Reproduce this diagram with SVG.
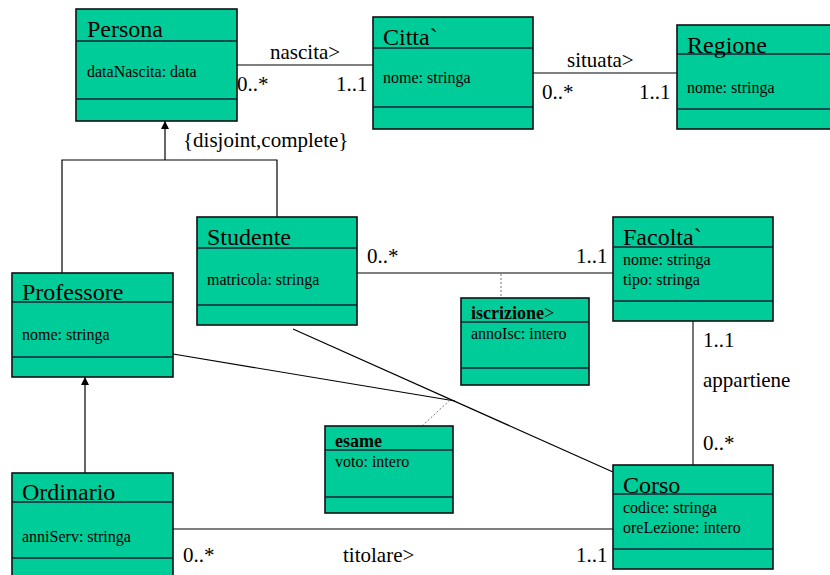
<svg xmlns="http://www.w3.org/2000/svg" width="830" height="575" viewBox="0 0 830 575">
<defs>
<marker id="tri" viewBox="0 0 8 10" refX="8" refY="5" markerWidth="8" markerHeight="10" markerUnits="userSpaceOnUse" orient="auto">
<path d="M0,1 L8,5 L0,9 Z" fill="#000"/>
</marker>
<style>
.box{fill:#00CC99;stroke:#111;stroke-width:1.6}
.sep{stroke:#123;stroke-width:1.3}
.cn{font-family:"Liberation Serif","Times New Roman",serif;font-size:24px;fill:#000}
.at{font-family:"Liberation Serif","Times New Roman",serif;font-size:16px;fill:#000}
.hb{font-family:"Liberation Serif","Times New Roman",serif;font-size:18px;font-weight:bold;fill:#000}
.lb{font-family:"Liberation Serif","Times New Roman",serif;font-size:21px;fill:#000}
.ln{stroke:#000;stroke-width:1.2;fill:none}
.gr{stroke:#666;stroke-width:1.8;fill:none}
.dt{stroke:#777;stroke-width:1;stroke-dasharray:2,2;fill:none}
</style>
</defs>
<rect width="830" height="575" fill="#fff"/>

<g id="connectors">
<line class="ln" x1="237" y1="65" x2="373" y2="65"/>
<line class="ln" x1="533" y1="73" x2="677" y2="73"/>
<polyline class="ln" points="62,273 62,160 277,160 277,217"/>
<line class="ln" x1="165" y1="160" x2="165" y2="121" marker-end="url(#tri)"/>
<line class="ln" x1="85" y1="473" x2="85" y2="377" marker-end="url(#tri)"/>
<line class="ln" x1="357" y1="273" x2="613" y2="273"/>
<line class="dt" x1="501" y1="274" x2="501" y2="298"/>
<line class="gr" x1="693" y1="321" x2="693" y2="465"/>
<line class="ln" x1="173" y1="529" x2="613" y2="529"/>
<line class="ln" x1="293" y1="329" x2="613" y2="472"/>
<line class="ln" x1="173" y1="354" x2="455" y2="401"/>
<line class="dt" x1="422" y1="426" x2="450" y2="400"/>
<text class="lb" x="270" y="59">nascita&gt;</text>
<text class="lb" x="237" y="91">0..*</text>
<text class="lb" x="336" y="91">1..1</text>
<text class="lb" x="567" y="67">situata&gt;</text>
<text class="lb" x="542" y="99">0..*</text>
<text class="lb" x="639" y="99">1..1</text>
<text class="lb" x="183" y="147">{disjoint,complete}</text>
<text class="lb" x="367" y="263">0..*</text>
<text class="lb" x="576" y="263">1..1</text>
<text class="lb" x="703" y="347">1..1</text>
<text class="lb" x="703" y="387">appartiene</text>
<text class="lb" x="703" y="450">0..*</text>
<text class="lb" x="183" y="562">0..*</text>
<text class="lb" x="343" y="562">titolare&gt;</text>
<text class="lb" x="576" y="562">1..1</text>
</g>

<g id="Persona">
<rect class="box" x="76" y="9" width="161" height="112"/>
<line class="sep" x1="76" y1="41" x2="237" y2="41"/>
<line class="sep" x1="76" y1="99" x2="237" y2="99"/>
<text class="cn" x="87" y="37">Persona</text>
<text class="at" x="87" y="77">dataNascita: data</text>
</g>

<g id="Citta">
<rect class="box" x="373" y="17" width="160" height="112"/>
<line class="sep" x1="373" y1="48" x2="533" y2="48"/>
<line class="sep" x1="373" y1="107" x2="533" y2="107"/>
<text class="cn" x="383" y="45">Citta`</text>
<text class="at" x="383" y="83">nome: stringa</text>
</g>

<g id="Regione">
<rect class="box" x="677" y="25" width="170" height="104"/>
<line class="sep" x1="677" y1="54" x2="847" y2="54"/>
<line class="sep" x1="677" y1="109" x2="847" y2="109"/>
<text class="cn" x="687" y="53">Regione</text>
<text class="at" x="687" y="93">nome: stringa</text>
</g>

<g id="Studente">
<rect class="box" x="197" y="217" width="160" height="108"/>
<line class="sep" x1="197" y1="248" x2="357" y2="248"/>
<line class="sep" x1="197" y1="305" x2="357" y2="305"/>
<text class="cn" x="207" y="245">Studente</text>
<text class="at" x="207" y="285">matricola: stringa</text>
</g>

<g id="Facolta">
<rect class="box" x="613" y="217" width="160" height="104"/>
<line class="sep" x1="613" y1="247" x2="773" y2="247"/>
<line class="sep" x1="613" y1="301" x2="773" y2="301"/>
<text class="cn" x="623" y="245">Facolta`</text>
<text class="at" x="623" y="265">nome: stringa</text>
<text class="at" x="623" y="285">tipo: stringa</text>
</g>

<g id="Professore">
<rect class="box" x="12" y="273" width="161" height="104"/>
<line class="sep" x1="12" y1="302" x2="173" y2="302"/>
<line class="sep" x1="12" y1="357" x2="173" y2="357"/>
<text class="cn" x="22" y="300">Professore</text>
<text class="at" x="22" y="340">nome: stringa</text>
</g>

<g id="iscrizione">
<rect class="box" x="461" y="298" width="128" height="87"/>
<line class="sep" x1="461" y1="322" x2="589" y2="322"/>
<line class="sep" x1="461" y1="368" x2="589" y2="368"/>
<text class="hb" x="471" y="319">iscrizione<tspan font-weight="normal">&gt;</tspan></text>
<text class="at" x="471" y="339">annoIsc: intero</text>
</g>

<g id="esame">
<rect class="box" x="325" y="426" width="128" height="87"/>
<line class="sep" x1="325" y1="450" x2="453" y2="450"/>
<line class="sep" x1="325" y1="497" x2="453" y2="497"/>
<text class="hb" x="335" y="447">esame</text>
<text class="at" x="335" y="467">voto: intero</text>
</g>

<g id="Ordinario">
<rect class="box" x="12" y="473" width="161" height="112"/>
<line class="sep" x1="12" y1="502" x2="173" y2="502"/>
<line class="sep" x1="12" y1="558" x2="173" y2="558"/>
<text class="cn" x="22" y="500">Ordinario</text>
<text class="at" x="22" y="542">anniServ: stringa</text>
</g>

<g id="Corso">
<rect class="box" x="613" y="465" width="160" height="104"/>
<line class="sep" x1="613" y1="494" x2="773" y2="494"/>
<line class="sep" x1="613" y1="549" x2="773" y2="549"/>
<text class="cn" x="623" y="493">Corso</text>
<text class="at" x="623" y="513">codice: stringa</text>
<text class="at" x="623" y="533">oreLezione: intero</text>
</g>
</svg>
